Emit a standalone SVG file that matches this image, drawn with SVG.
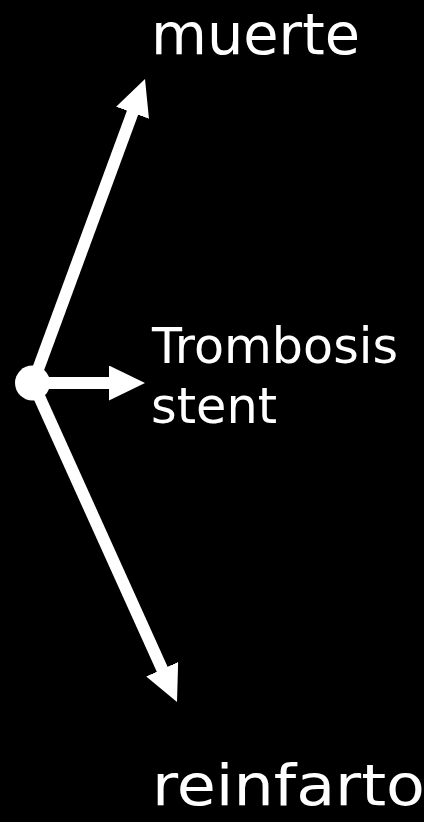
<svg xmlns="http://www.w3.org/2000/svg" width="424" height="822" viewBox="0 0 424 822">
  <style>
    .bg { fill: #000000; }
    .edge { stroke: #ffffff; stroke-width: 12; fill: none; marker-end: url(#head); }
    .hub { fill: #ffffff; }
    .label { fill: #ffffff; font-family: "DejaVu Sans", "Noto Sans", sans-serif; }
    .big { font-size: 57px; }
    .mid { font-size: 50px; }
  </style>
  <defs>
    <marker id="head" markerUnits="userSpaceOnUse" viewBox="0 0 36 35" markerWidth="36" markerHeight="35" refX="1" refY="17.5" orient="auto">
      <path d="M0,0 L36,17.5 L0,35 Z" fill="#ffffff"/>
    </marker>
  </defs>

  <rect class="bg" x="0" y="0" width="424" height="822"/>

  <!-- connectors from the hub to each outcome -->
  <g id="connectors">
    <line class="edge" x1="33" y1="383" x2="132.9" y2="111.8"/>
    <line class="edge" x1="33" y1="383" x2="110" y2="383"/>
    <line class="edge" x1="33" y1="383" x2="162.6" y2="670.1"/>
  </g>

  <g id="hub">
    <circle class="hub" cx="32.5" cy="383" r="17.5"/>
  </g>

  <g id="muerte">
    <text class="label big" x="151" y="54" textLength="209" lengthAdjust="spacingAndGlyphs">muerte</text>
  </g>

  <g id="trombosis-stent">
    <text class="label mid" x="152" y="363" textLength="246" lengthAdjust="spacingAndGlyphs">Trombosis</text>
    <text class="label mid" x="151" y="423" textLength="126" lengthAdjust="spacingAndGlyphs">stent</text>
  </g>

  <g id="reinfarto">
    <text class="label big" x="152" y="805" textLength="273" lengthAdjust="spacingAndGlyphs">reinfarto</text>
  </g>
</svg>
